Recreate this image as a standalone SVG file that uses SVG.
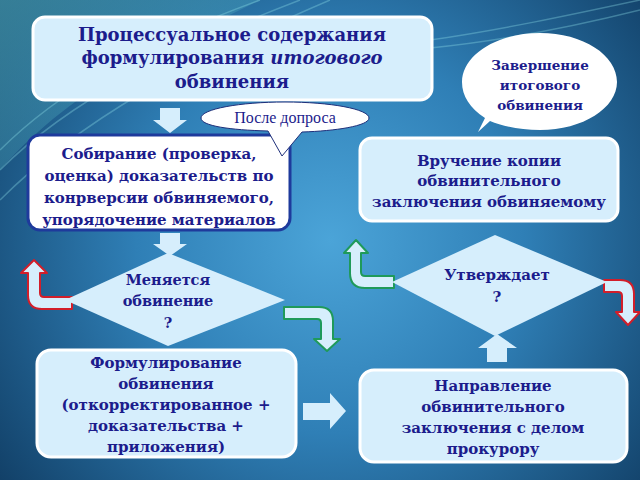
<svg xmlns="http://www.w3.org/2000/svg" width="640" height="480" viewBox="0 0 640 480">
<defs>
<radialGradient id="bg" cx="330" cy="240" r="430" gradientUnits="userSpaceOnUse">
<stop offset="0" stop-color="#4ba4d8"/>
<stop offset="0.45" stop-color="#2f7fb6"/>
<stop offset="1" stop-color="#0f3a60"/>
</radialGradient>
<linearGradient id="tl" x1="0" y1="0" x2="1" y2="1">
<stop offset="0" stop-color="#5cc0c8" stop-opacity="0.8"/>
<stop offset="1" stop-color="#5cc0c8" stop-opacity="0"/>
</linearGradient>
<style>
.box{fill:#d6eefc;stroke:#ffffff;stroke-width:3}
.dia{fill:#d6eefc;stroke:none}
.t{font-family:"DejaVu Serif","Liberation Serif",serif;font-weight:bold;fill:#1c1c8c;text-anchor:middle}
.blk{fill:#d6eefc;stroke:none}
.red{fill:#d6eefc;stroke:#d21e2a;stroke-width:2;stroke-linejoin:round}
.grn{fill:#d6eefc;stroke:#1f9a5a;stroke-width:2;stroke-linejoin:round}
.swoosh{fill:none;stroke:#8fe0e8;stroke-opacity:0.35;stroke-width:1.5}
</style>
</defs>
<rect width="640" height="480" fill="url(#bg)"/>
<path d="M0,0 L260,0 C180,40 80,80 0,170 Z" fill="url(#tl)" opacity="0.6"/>
<path class="swoosh" d="M0,150 C60,90 150,40 260,0"/>
<path class="swoosh" d="M0,170 C70,100 170,50 300,0"/>
<path class="swoosh" d="M0,200 C80,120 190,60 330,0"/>
<path class="swoosh" d="M430,40 C500,30 570,15 640,0"/>
<path class="swoosh" d="M430,48 C510,40 580,25 640,10"/>

<g id="connectors">
<path class="blk" d="M160,108 L180,108 L180,120 L187,120 L170,133 L153,120 L160,120 Z"/>
<path class="blk" d="M160,233 L180,233 L180,244 L187,244 L170,256 L153,244 L160,244 Z"/>
<path class="red" d="M72,297 L44,297 Q40,297 40,293 L40,273 L47,273 L34,260 L21,273 L28,273 L28,295 Q28,309 42,309 L72,309 Z"/>
<path class="grn" d="M284,307 L319,307 Q333,307 333,321 L333,339 L340,339 L327,351 L314,339 L321,339 L321,323 Q321,319 317,319 L284,319 Z"/>
<path class="grn" d="M394,276 L365,276 Q361,276 361,272 L361,253 L368,253 L356,240 L344,253 L350,253 L350,273 Q350,288 365,288 L394,288 Z"/>
<path class="red" d="M604,280 L620,280 Q634,280 634,294 L634,312 L640,312 L628,325 L616,312 L622,312 L622,296 Q622,292 618,292 L604,292 Z"/>
<path class="blk" d="M487,362 L507,362 L507,348 L517,348 L497,334 L478,348 L487,348 Z"/>
<path class="blk" d="M303,403 L330,403 L330,393 L346,411 L330,429 L330,420 L303,420 Z"/>
</g>

<g id="n-process">
<rect class="box" x="33" y="17" width="399" height="83" rx="12"/>
<text class="t" font-size="18" x="232" y="41">Процессуальное содержания</text>
<text class="t" font-size="18" x="232" y="64">формулирования <tspan font-style="italic">итогового</tspan></text>
<text class="t" font-size="18" x="232" y="88">обвинения</text>
</g>

<g id="n-collect">
<rect x="28" y="135" width="262" height="95" rx="12" fill="#ffffff" stroke="#1e3a9c" stroke-width="3"/>
<text class="t" font-size="15" x="159" y="159">Собирание (проверка,</text>
<text class="t" font-size="15" x="159" y="181">оценка) доказательств по</text>
<text class="t" font-size="15" x="159" y="203">конрверсии обвиняемого,</text>
<text class="t" font-size="15" x="159" y="225">упорядочение материалов</text>
</g>

<g id="n-after">
<path d="M268,131 C230,130 201,126 201,118 C201,109 240,102 285,102 C330,102 369,109 369,118 C369,126 335,131 302,132 L282,156 Z" fill="#ffffff" stroke="#1e2f7a" stroke-width="1"/>
<text font-family="'Liberation Serif','DejaVu Serif',serif" font-size="16" fill="#1c1c8c" text-anchor="middle" x="285" y="123">После допроса</text>
</g>

<g id="n-finish">
<path d="M478,132 L485,118 C470,108 462,96 462,82 C462,55 497,33 540,33 C583,33 617,55 617,82 C617,108 583,130 540,130 C520,130 502,126 490,121 Z" fill="#ffffff"/>
<text class="t" font-size="13.5" x="540" y="70">Завершение</text>
<text class="t" font-size="13.5" x="540" y="90">итогового</text>
<text class="t" font-size="13.5" x="540" y="110">обвинения</text>
</g>

<g id="n-copy">
<rect class="box" x="360" y="138" width="258" height="83" rx="12"/>
<text class="t" font-size="15" x="489" y="166">Вручение копии</text>
<text class="t" font-size="15" x="489" y="186">обвинительного</text>
<text class="t" font-size="15" x="489" y="207">заключения обвиняемому</text>
</g>

<g id="n-changes">
<polygon class="dia" points="168,253 285,300 168,346 65,300"/>
<text class="t" font-size="14.5" x="168" y="285">Меняется</text>
<text class="t" font-size="14.5" x="168" y="306">обвинение</text>
<text class="t" font-size="14.5" x="168" y="328">?</text>
</g>

<g id="n-approve">
<polygon class="dia" points="495,235 607,282 495,336 392,282"/>
<text class="t" font-size="15" x="497" y="280">Утверждает</text>
<text class="t" font-size="15" x="497" y="302">?</text>
</g>

<g id="n-formulate">
<rect class="box" x="37" y="350" width="259" height="107" rx="14"/>
<text class="t" font-size="15" x="166" y="368">Формулирование</text>
<text class="t" font-size="15" x="166" y="389">обвинения</text>
<text class="t" font-size="15" x="166" y="410">(откорректированное  +</text>
<text class="t" font-size="15" x="166" y="431">доказательства +</text>
<text class="t" font-size="15" x="166" y="452">приложения)</text>
</g>

<g id="n-send">
<rect class="box" x="360" y="370" width="267" height="92" rx="14"/>
<text class="t" font-size="15" x="493" y="391">Направление</text>
<text class="t" font-size="15" x="493" y="412">обвинительного</text>
<text class="t" font-size="15" x="493" y="433">заключения с делом</text>
<text class="t" font-size="15" x="493" y="454">прокурору</text>
</g>
</svg>
